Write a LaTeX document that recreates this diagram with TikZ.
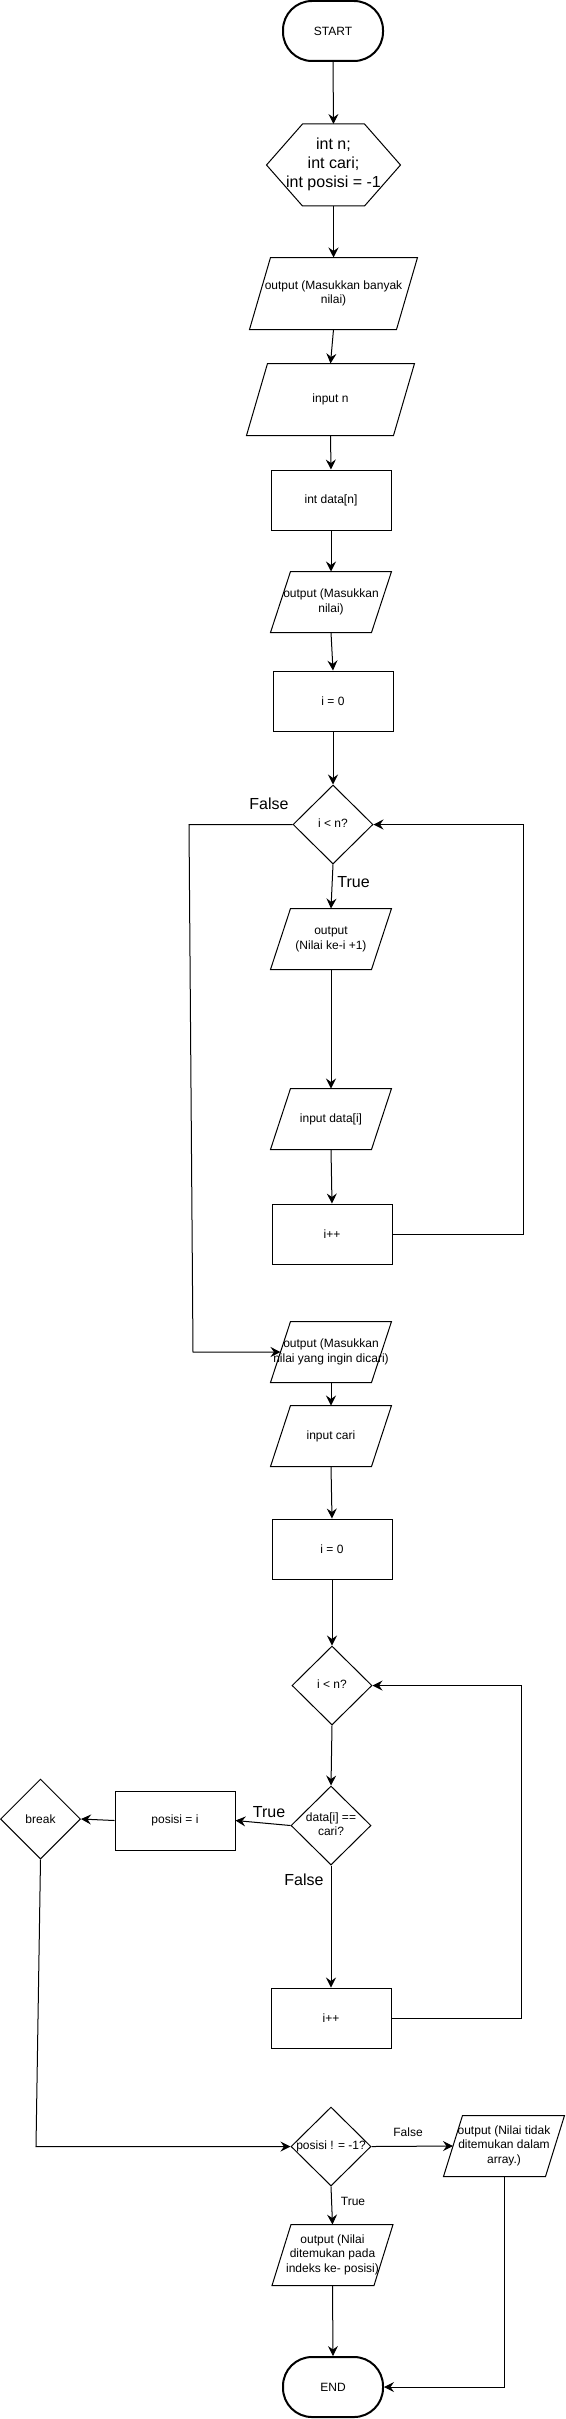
\documentclass[tikz,border=0pt]{standalone}
\usepackage{fontspec}
\setmainfont{Liberation Sans}
\usetikzlibrary{shapes.geometric,arrows.meta}
\newcommand{\zt}[1]{\makebox[0pt]{\begin{tabular}{@{}c@{}}#1\end{tabular}}}
\newcommand{\para}[2]{\draw (#1.south west) -- ([xshift=#2]#1.north west) -- (#1.north east) -- ([xshift=-#2]#1.south east) -- cycle;}
\begin{document}
\begin{tikzpicture}[x=1pt,y=-1pt,
  every node/.style={font=\fontsize{12}{14.4}\selectfont, inner sep=0pt},
  line width=1pt,
  term/.style={draw, rectangle, rounded corners=29pt, minimum width=100pt, minimum height=60pt, line width=2pt},
  proc/.style={draw, rectangle, minimum width=120pt, minimum height=60pt},
  io/.style={rectangle, minimum width=120pt, minimum height=60pt},
  dec/.style={draw, diamond, minimum width=80pt, minimum height=79pt},
  arr/.style={-{Stealth[length=10pt,width=10pt,inset=3.5pt]}},
  biglbl/.style={font=\fontsize{16}{19}\selectfont},
]
\useasboundingbox (0,0) rectangle (565,2419);

\node[term] (start) at (333,31) {START};
\node[draw=none, minimum width=133pt, minimum height=81pt, font=\fontsize{16}{19}\selectfont] (decl) at (333.5,165) {\zt{int n;\\int cari;\\int posisi = -1}};
\draw (decl.west) -- ([xshift=36pt]decl.north west) -- ([xshift=-36pt]decl.north east) -- (decl.east) -- ([xshift=-36pt]decl.south east) -- ([xshift=36pt]decl.south west) -- cycle;

\node[io, minimum width=167pt, minimum height=71pt] (out1) at (333.5,293.5) {\zt{output (Masukkan banyak\\nilai)}};
\para{out1}{21pt}
\node[io, minimum width=167pt, minimum height=71pt] (inN) at (330.5,399.5) {input n};
\para{inN}{21pt}
\node[proc] (data) at (331,500) {int data[n]};
\node[io] (out2) at (331,602) {\zt{output (Masukkan\\nilai)}};
\para{out2}{20pt}
\node[proc] (i0a) at (333,701) {i = 0};
\node[dec] (d1) at (333,824.5) {\zt{i < n?}};
\node[io] (out3) at (331,939) {\zt{output\\(Nilai ke-i +1)}};
\para{out3}{20pt}
\node[io] (inD) at (331,1119) {input data[i]};
\para{inD}{20pt}
\node[proc] (inc1) at (332,1234) {i++};
\node[io] (out4) at (331,1352) {\zt{output (Masukkan\\nilai yang ingin dicari)}};
\para{out4}{20pt}
\node[io] (inC) at (331,1436) {input cari};
\para{inC}{20pt}
\node[proc] (i0b) at (332,1549) {i = 0};
\node[dec] (d2) at (332,1685.5) {\zt{i < n?}};
\node[dec] (d3) at (331,1825.5) {\zt{data[i] ==\\cari?}};
\node[proc, minimum height=59pt] (pos) at (175,1820.5) {posisi = i};
\node[dec, minimum height=80pt] (brk) at (40.5,1819) {break};
\node[proc] (inc2) at (331,2018) {i++};
\node[dec] (d4) at (331,2146.5) {\zt{posisi ! = -1?}};
\node[io] (outNF) at (504,2146) {\zt{output (Nilai tidak\\ditemukan dalam\\array.)}};
\para{outNF}{19pt}
\node[io] (outF) at (332.5,2255) {\zt{output (Nilai\\ditemukan pada\\indeks ke- posisi)}};
\para{outF}{19pt}
\node[term] (end) at (333,2387) {END};

\node[biglbl] (lf1) at (269,804) {False};
\node[biglbl] (lt1) at (353.5,882) {True};
\node[biglbl] (lt2) at (269,1812) {True};
\node[biglbl] (lf2) at (304,1880) {False};
\node (lf3) at (408,2132) {False};
\node (lt3) at (353,2201) {True};

\coordinate (r1) at (523,824.5);
\coordinate (f1) at (189,824.5);
\coordinate (f2) at (193,1352);
\coordinate (r2) at (521,1685.5);
\coordinate (b1) at (36,2146.5);

\draw[arr] (start.south) -- (decl.north);
\draw[arr] (decl.south) -- (out1.north);
\draw[arr] (out1.south) -- (inN.north);
\draw[arr] (inN.south) -- (data.north);
\draw[arr] (data.south) -- (out2.north);
\draw[arr] (out2.south) -- (i0a.north);
\draw[arr] (i0a.south) -- (d1.north);
\draw[arr] (d1.south) -- (out3.north);
\draw[arr] (out3.south) -- (inD.north);
\draw[arr] (inD.south) -- (inc1.north);
\draw[arr] (inc1.east) -| (r1) -- (d1.east);
\draw[arr] (d1.west) -- (f1) -- (f2) -- ([xshift=10pt]out4.west);
\draw[arr] (out4.south) -- (inC.north);
\draw[arr] (inC.south) -- (i0b.north);
\draw[arr] (i0b.south) -- (d2.north);
\draw[arr] (d2.south) -- (d3.north);
\draw[arr] (d3.west) -- (pos.east);
\draw[arr] (pos.west) -- (brk.east);
\draw[arr] (d3.south) -- (inc2.north);
\draw[arr] (inc2.east) -| (r2) -- (d2.east);
\draw[arr] (brk.south) -- (b1) -- (d4.west);
\draw[arr] (d4.east) -- ([xshift=9.5pt]outNF.west);
\draw[arr] (d4.south) -- (outF.north);
\draw[arr] (outF.south) -- (end.north);
\draw[arr] (outNF.south) |- (end.east);
\end{tikzpicture}
\end{document}
